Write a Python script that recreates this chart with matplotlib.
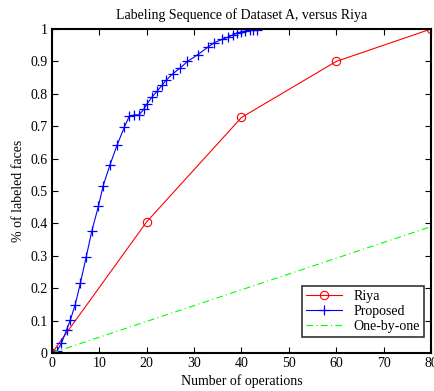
import matplotlib
matplotlib.use('Agg')
import matplotlib.pyplot as plt
import numpy as np

plt.rcParams['font.family'] = 'Liberation Serif'

# Riya
riya_x = [0, 20, 40, 60, 80]
riya_y = [0, 0.405, 0.727, 0.90, 1.0]

# Proposed
prop_x = [0, 1.0, 2.0, 3.1, 3.9, 4.9, 6.0, 7.2, 8.4, 9.8, 10.8, 12.2, 13.75, 15.3, 16.3,
          17.4, 18.4, 19.4, 20.1, 21.1, 22.2, 23.2, 24.1, 25.5, 27.1, 28.6, 30.8, 32.9,
          34.3, 35.9, 37.1, 38.2, 39.0, 39.9, 40.8, 41.7, 42.5, 43.2]
prop_y = [0, 0.005, 0.03, 0.072, 0.103, 0.149, 0.216, 0.295, 0.376, 0.453, 0.516, 0.579,
          0.642, 0.698, 0.730, 0.735, 0.735, 0.753, 0.770, 0.790, 0.808, 0.826, 0.842,
          0.862, 0.880, 0.900, 0.921, 0.944, 0.958, 0.968, 0.975, 0.982, 0.987, 0.991,
          0.994, 0.996, 0.997, 0.998]

# One-by-one
one_x = [0, 80]
one_y = [0, 0.39]

fig = plt.figure(figsize=(4.35, 3.91), dpi=100)
ax = fig.add_axes([0.1195, 0.0972, 0.8713, 0.8286])

ax.plot(riya_x, riya_y, color='red', lw=0.8, marker='o', ms=6, mfc='none', mec='red', mew=0.8, label='Riya')
ax.plot(prop_x, prop_y, color='blue', lw=0.8, marker='+', ms=6.5, mew=0.9, label='Proposed')
ax.plot(one_x, one_y, color='#00ff00', lw=0.8, linestyle=(0, (6, 3, 1, 3)), label='One-by-one')

ax.set_xlim(0, 80)
ax.set_ylim(0, 1)
ax.set_xticks(np.arange(0, 81, 10))
yt = np.round(np.arange(0, 1.01, 0.1), 1)
ax.set_yticks(yt)
ax.set_yticklabels(['0' if v == 0 else ('1' if v == 1 else str(v)) for v in yt])
ax.tick_params(direction='in', top=True, right=True, labelsize=10, length=4, width=0.8, pad=3)
for s in ax.spines.values():
    s.set_linewidth(1.5)

ax.set_xlabel('Number of operations', fontsize=10, labelpad=3)
ax.set_ylabel('% of labeled faces', fontsize=10, labelpad=4)
ax.set_title('Labeling Sequence of Dataset A, versus Riya', fontsize=10, pad=7)

leg = ax.legend(loc='lower right', bbox_to_anchor=(0.981, 0.049), fontsize=10, frameon=True,
                fancybox=False, edgecolor='black', borderpad=0.3, labelspacing=0.15,
                handlelength=2.6, borderaxespad=0)
leg.get_frame().set_linewidth(1.2)

plt.savefig('out.png', dpi=100)
